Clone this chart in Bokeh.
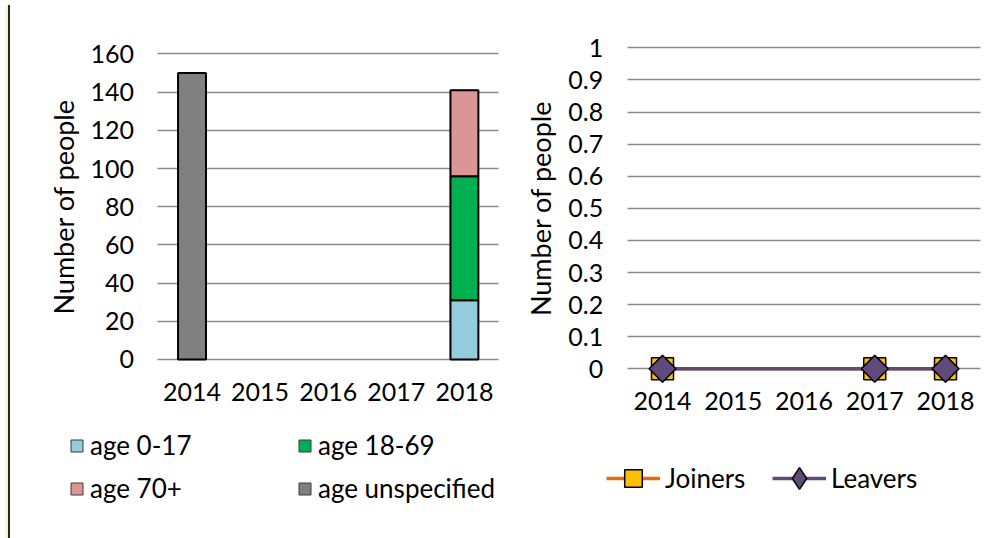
import math
from bokeh.plotting import figure
from bokeh.layouts import row
from bokeh.models import Range1d, Legend, LegendItem, FixedTicker, Div, Label
from bokeh.embed import file_html
from bokeh.resources import INLINE

# ---------------- data ----------------
years = ["2014", "2015", "2016", "2017", "2018"]
age_groups = ["age 0-17", "age 18-69", "age 70+", "age unspecified"]
age_0_17 = [0, 0, 0, 0, 31]
age_18_69 = [0, 0, 0, 0, 65]
age_70_plus = [0, 0, 0, 0, 45]
age_unspecified = [150, 0, 0, 0, 0]
bar_colors = ["#93CDDD", "#00B050", "#D99694", "#808080"]
left_yticks = [0, 20, 40, 60, 80, 100, 120, 140, 160]

flow_years = ["2014", "2017", "2018"]
joiners = [0, 0, 0]
leavers = [0, 0, 0]
right_yticks = [0, 0.1, 0.2, 0.3, 0.4, 0.5, 0.6, 0.7, 0.8, 0.9, 1]
right_tick_overrides = {0: "0", 1: "1"}

FONT = "Lato"
TICK_SIZE = "25px"
LABEL_SIZE = "27px"
LEG_SIZE = "26px"
GRID = "#8a8a8a"
H = 538

year_idx = list(range(len(years)))
year_labels = {i: y for i, y in zip(year_idx, years)}

# ---------------- left strip ----------------
strip = Div(text="", width=5, height=H,
            styles={"background": "linear-gradient(to right, #FFF2CC 0px, #FFF2CC 3px, #262626 3px, #262626 5px)"})


def setup(p, yticks, x_standoff, label_y, label_dx):
    p.outline_line_color = None
    p.xgrid.grid_line_color = None
    p.ygrid.grid_line_color = GRID
    p.ygrid.grid_line_width = 1.3
    p.ygrid.ticker = FixedTicker(ticks=yticks)
    try:
        p.ygrid.cross_bounds = (-0.5, len(years) - 0.5)
    except Exception:
        p.ygrid.grid_line_color = None
        p.segment(x0=[-0.5] * len(yticks), x1=[len(years) - 0.5] * len(yticks),
                  y0=yticks, y1=yticks, line_color=GRID, line_width=1.3, level="underlay")
    xa, ya = p.xaxis[0], p.yaxis[0]
    for ax in (xa, ya):
        ax.axis_line_color = None
        ax.major_tick_line_color = None
        ax.minor_tick_line_color = None
        ax.major_tick_out = 0
        ax.major_tick_in = 0
        ax.major_label_text_font = FONT
        ax.major_label_text_font_size = TICK_SIZE
        ax.major_label_text_color = "black"
    xa.ticker = FixedTicker(ticks=year_idx)
    xa.major_label_overrides = year_labels
    xa.fixed_location = 0
    xa.major_label_standoff = x_standoff
    ya.ticker = FixedTicker(ticks=yticks)
    ya.fixed_location = -0.5
    ya.major_label_standoff = 24
    p.add_layout(Label(x=-0.5, y=label_y, x_offset=label_dx, text="Number of people",
                       angle=math.pi / 2, text_align="center", text_baseline="middle",
                       text_font=FONT, text_font_size=LABEL_SIZE, text_color="black"))


def make_legend(items, loc, **kw):
    return Legend(items=items, location=loc, orientation="horizontal",
                  label_text_font=FONT, label_text_font_size=LEG_SIZE, label_text_color="black",
                  border_line_color=None, background_fill_alpha=0, padding=0, margin=0, **kw)


# ---------------- left chart ----------------
p1 = figure(width=507, height=H, x_range=Range1d(-2.592, 4.853), y_range=Range1d(-93.77, 188.02),
            output_backend="svg", toolbar_location=None, min_border=0)
setup(p1, left_yticks, 24, (left_yticks[0] + left_yticks[-1]) / 2, -94)

series = [age_0_17, age_18_69, age_70_plus, age_unspecified]
cum = [0] * len(years)
segments = []
for name, vals, color in zip(age_groups, series, bar_colors):
    xs, bots, tops = [], [], []
    for i, v in enumerate(vals):
        if v > 0:
            xs.append(year_idx[i])
            bots.append(cum[i])
            tops.append(cum[i] + v)
        cum[i] += v
    segments.append((xs, bots, tops, color))

# thin-outlined swatches (used by the legend), hidden under the bars
legend_swatches = [p1.vbar(x=xs, bottom=b, top=t, width=0.41, fill_color=c,
                           line_color="#3a3a3a", line_width=1)
                   for xs, b, t, c in segments]
for xs, b, t, c in segments:
    p1.vbar(x=xs, bottom=b, top=t, width=0.41, fill_color=c, line_color="black", line_width=2)

leg_kw = dict(glyph_width=15, glyph_height=15, label_height=30, label_width=190,
              label_standoff=6, spacing=17)
leg_a = make_legend([LegendItem(label=age_groups[0], renderers=[legend_swatches[0]]),
                     LegendItem(label=age_groups[1], renderers=[legend_swatches[1]])], (54, 77), **leg_kw)
leg_b = make_legend([LegendItem(label=age_groups[2], renderers=[legend_swatches[2]]),
                     LegendItem(label=age_groups[3], renderers=[legend_swatches[3]])], (54, 34), **leg_kw)
p1.add_layout(leg_a)
p1.add_layout(leg_b)

# ---------------- right chart ----------------
p2 = figure(width=468, height=H, x_range=Range1d(-1.979, 4.636), y_range=Range1d(-0.5287, 1.1474),
            output_backend="svg", toolbar_location=None, min_border=0)
setup(p2, right_yticks, 23, (right_yticks[0] + right_yticks[-1]) / 2, -87)
p2.yaxis[0].major_label_overrides = right_tick_overrides

fx = [years.index(y) for y in flow_years]
jl = p2.line(fx, joiners, line_color="#E46C0A", line_width=3.5)
js = p2.scatter(fx, joiners, marker="square", size=22, fill_color="#FFC000",
                line_color="black", line_width=1.5)
ll = p2.line(fx, leavers, line_color="#604A7B", line_width=3.5)
# diamond used by the legend, hidden under the rotated-square markers
ld = p2.scatter(fx, leavers, marker="diamond", size=17, fill_color="#604A7B",
                line_color="black", line_width=1.5)
ls = p2.scatter(fx, leavers, marker="square", angle=math.pi / 4, size=19,
                fill_color="#604A7B", line_color="black", line_width=1.5)

leg_j = make_legend([LegendItem(label="Joiners", renderers=[jl, js])], (84, 38),
                    glyph_width=54, glyph_height=44, label_standoff=5)
leg_l = make_legend([LegendItem(label="Leavers", renderers=[ll, ld])], (250, 33),
                    glyph_width=54, glyph_height=54, label_standoff=5)
p2.add_layout(leg_j)
p2.add_layout(leg_l)

layout = row(strip, p1, p2)
open("out.html", "w").write(file_html(layout, INLINE))
